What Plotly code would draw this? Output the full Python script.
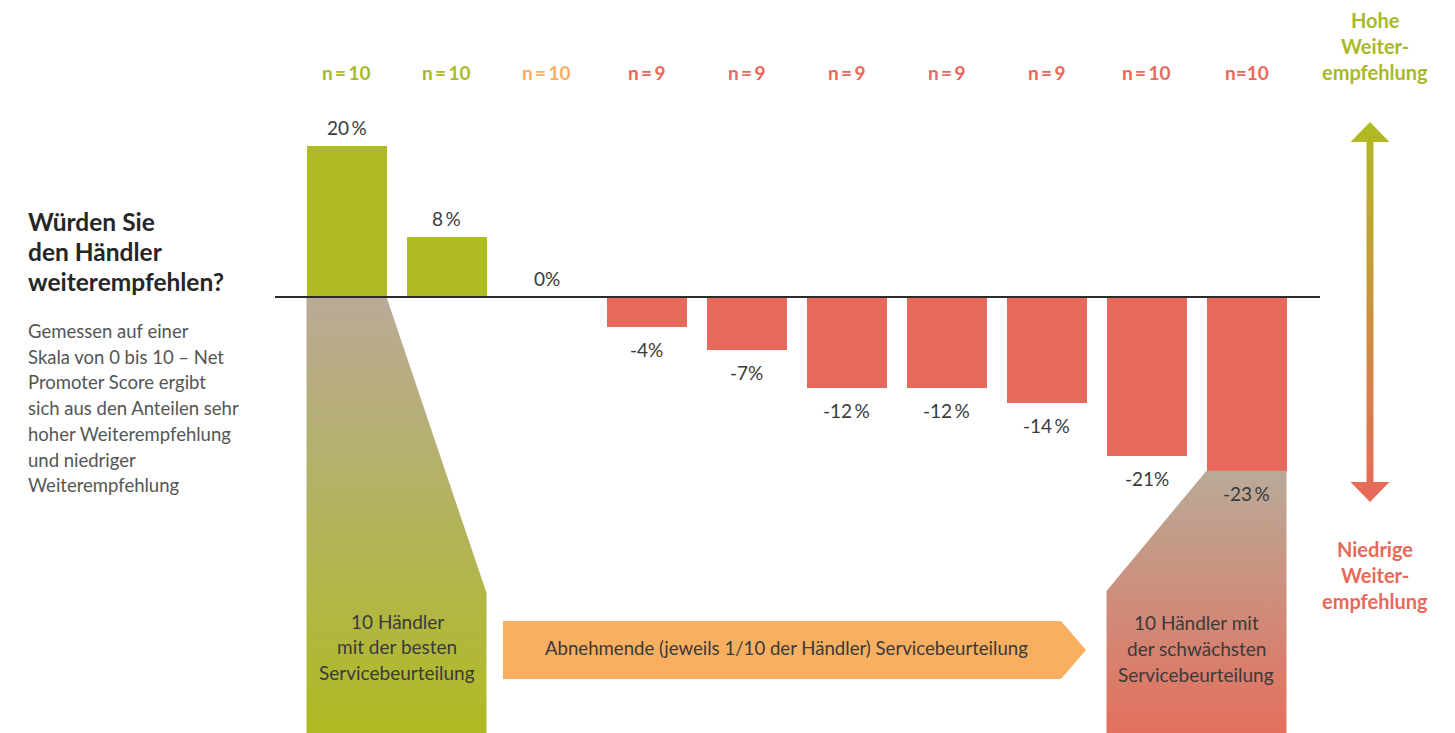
import plotly.graph_objects as go

# ---- data -------------------------------------------------------------
deciles = list(range(10))
nps_values = [20, 8, 0, -4, -7, -12, -12, -14, -21, -23]
value_labels = ["20\u2009%", "8\u2009%", "0%", "-4%", "-7%", "-12\u2009%", "-12\u2009%",
                "-14\u2009%", "-21%", "-23\u2009%"]
sample_sizes = ["n\u2009=\u200910", "n\u2009=\u200910", "n\u2009=\u200910", "n\u2009=\u20099",
                "n\u2009=\u20099", "n\u2009=\u20099", "n\u2009=\u20099", "n\u2009=\u20099",
                "n\u2009=\u200910", "n=10"]
sample_groups = ["top", "top", "mid", "low", "low", "low", "low", "low", "low", "low"]

title_lines = ["Würden Sie", "den Händler", "weiterempfehlen?"]
note_lines = ["Gemessen auf einer", "Skala von 0 bis 10 \u2013 Net", "Promoter Score ergibt",
              "sich aus den Anteilen sehr", "hoher Weiterempfehlung", "und niedriger",
              "Weiterempfehlung"]
high_lines = ["Hohe", "Weiter-", "empfehlung"]
low_lines = ["Niedrige", "Weiter-", "empfehlung"]
best_lines = ["10 Händler", "mit der besten", "Servicebeurteilung"]
worst_lines = ["10 Händler mit", "der schwächsten", "Servicebeurteilung"]
trend_text = "Abnehmende (jeweils 1/10 der Händler) Servicebeurteilung"

# ---- styling ----------------------------------------------------------
GREEN = "#afbb22"
RED = "#e8695b"
ORANGE = "#f8af60"
TAN = "#b9aa97"
TEXT = "#3a3a3a"
FONT = "Lato"
group_colors = {"top": "#a9b927", "mid": "#f8ad62", "low": "#e8695a"}

W, H = 1455, 733
X0_PX, X_STEP = 346.5, 100.0      # pixel centre of first bar, pixel distance between bars
Y0_PX, Y_SCALE = 297.0, 7.55      # pixel row of the zero line, pixels per percentage point


def px_x(p):
    return (p - X0_PX) / X_STEP


def px_y(p):
    return (Y0_PX - p) / Y_SCALE


X_RANGE = [px_x(0), px_x(W)]
Y_RANGE = [px_y(H), px_y(0)]
BAR_W = 0.8
HALF = BAR_W / 2

fig = go.Figure()

# funnel under the best decile (tan -> green)
funnel_break = px_y(593)
x_best = [deciles[0] - HALF, deciles[0] + HALF, deciles[1] + HALF, deciles[1] + HALF,
          deciles[0] - HALF, deciles[0] - HALF]
y_best = [0, 0, funnel_break, Y_RANGE[0], Y_RANGE[0], 0]
fig.add_trace(go.Scatter(
    x=x_best, y=y_best, mode="lines", line=dict(width=0), fill="toself",
    fillgradient=dict(type="vertical", colorscale=[[0, GREEN], [1, TAN]],
                      start=Y_RANGE[0], stop=0),
    hoverinfo="skip"))

# funnel under the weakest decile (tan -> red)
last = deciles[-1]
y_top = nps_values[-1]
funnel_break_r = px_y(591)
x_worst = [last - HALF, last + HALF, last + HALF, deciles[-2] - HALF, deciles[-2] - HALF, last - HALF]
y_worst = [y_top, y_top, Y_RANGE[0], Y_RANGE[0], funnel_break_r, y_top]
fig.add_trace(go.Scatter(
    x=x_worst, y=y_worst, mode="lines", line=dict(width=0), fill="toself",
    fillgradient=dict(type="vertical", colorscale=[[0, "#e4705e"], [1, TAN]],
                      start=Y_RANGE[0], stop=y_top),
    hoverinfo="skip"))

# bars
bar_colors = [GREEN if v > 0 else RED for v in nps_values]
fig.add_trace(go.Bar(x=deciles, y=nps_values, width=BAR_W, marker=dict(color=bar_colors, line=dict(width=0)),
                     hoverinfo="skip"))

# zero line
fig.add_shape(type="line", x0=px_x(275), x1=px_x(1320), y0=0, y1=0,
              line=dict(color="#2b2b2b", width=2))

# trend chevron
cx0, cx1, ctip = px_x(503), px_x(1061), px_x(1086)
cy0, cy1 = px_y(621), px_y(679)
fig.add_trace(go.Scatter(
    x=[cx0, cx1, ctip, cx1, cx0, cx0], y=[cy0, cy0, (cy0 + cy1) / 2, cy1, cy1, cy0],
    mode="lines", line=dict(width=0), fill="toself", fillcolor=ORANGE, hoverinfo="skip"))

# vertical double arrow (green top -> red bottom)
ax = px_x(1370)
hw, sw = 0.195, 0.035
t_tip, t_base = px_y(122), px_y(142)
b_base, b_tip = px_y(482), px_y(502)
arr_x = [ax, ax + hw, ax + sw, ax + sw, ax + hw, ax, ax - hw, ax - sw, ax - sw, ax - hw, ax]
arr_y = [t_tip, t_base, t_base, b_base, b_base, b_tip, b_base, b_base, t_base, t_base, t_tip]
fig.add_trace(go.Scatter(
    x=arr_x, y=arr_y, mode="lines", line=dict(width=0), fill="toself",
    fillgradient=dict(type="vertical", colorscale=[[0, RED], [1, GREEN]],
                      start=b_tip, stop=t_tip),
    hoverinfo="skip"))

ann = []


def add_text(x, y, text, size, color, bold=False, xanchor="center", yanchor="middle", yshift=0):
    ann.append(dict(x=x, y=y, text=f"<b>{text}</b>" if bold else text, showarrow=False,
                    xanchor=xanchor, yanchor=yanchor, yshift=yshift,
                    font=dict(family=FONT, size=size, color=color)))


# value labels
for d, v, lab in zip(deciles, nps_values, value_labels):
    if v >= 0:
        add_text(d, v, lab, 19, TEXT, yanchor="bottom", yshift=5)
    else:
        add_text(d, v, lab, 19, TEXT, yanchor="top", yshift=-9)

# sample sizes
for d, s, g in zip(deciles, sample_sizes, sample_groups):
    add_text(d, px_y(72), s, 19, group_colors[g], bold=True)

# left heading and note
for i, line in enumerate(title_lines):
    add_text(px_x(26), px_y(221 + 30 * i), line, 24.5, "#262626", bold=True, xanchor="left")
for i, line in enumerate(note_lines):
    add_text(px_x(26), px_y(331 + 25.7 * i), line, 18.5, "#555555", xanchor="left")

# right arrow captions
cap_x = px_x(1375)
for i, line in enumerate(high_lines):
    add_text(cap_x, px_y(20 + 26 * i), line, 20, "#a9b927", bold=True)
for i, line in enumerate(low_lines):
    add_text(cap_x, px_y(549 + 26 * i), line, 20, "#e8695a", bold=True)

# funnel captions
for i, line in enumerate(best_lines):
    add_text(px_x(397), px_y(621 + 25.5 * i), line, 19, TEXT)
for i, line in enumerate(worst_lines):
    add_text(px_x(1196), px_y(622 + 26 * i), line, 19, TEXT)
add_text(px_x(786), px_y(648), trend_text, 18.6, TEXT)

fig.update_layout(
    width=W, height=H, margin=dict(l=0, r=0, t=0, b=0),
    paper_bgcolor="white", plot_bgcolor="white", showlegend=False,
    xaxis=dict(range=X_RANGE, visible=False, fixedrange=True),
    yaxis=dict(range=Y_RANGE, visible=False, fixedrange=True),
    annotations=ann, bargap=0,
)

fig.write_html("out.html", config={"displayModeBar": False})
